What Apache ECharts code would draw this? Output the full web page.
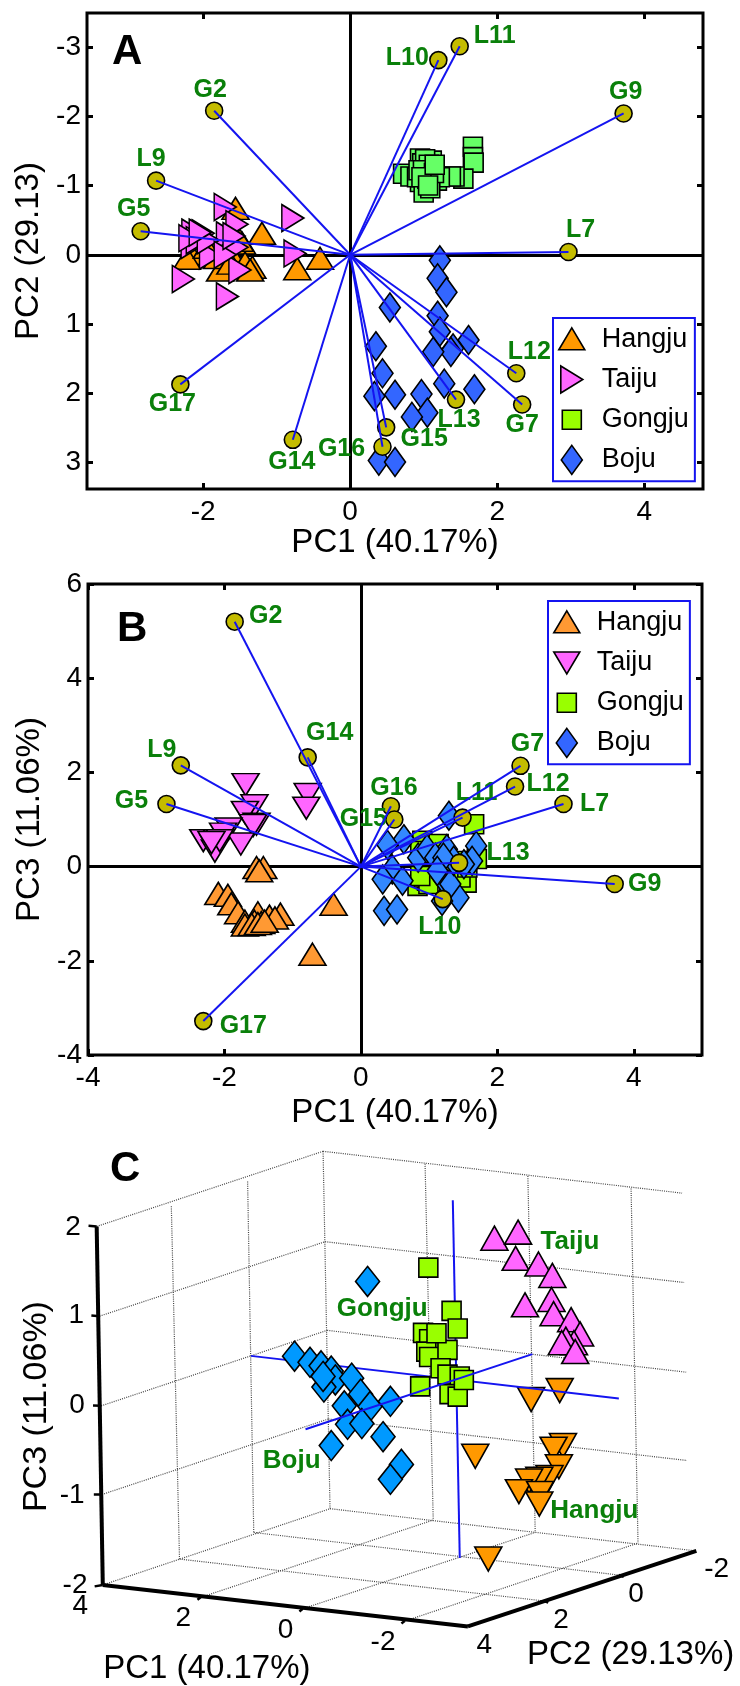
<!DOCTYPE html>
<html><head><meta charset="utf-8">
<script src="https://cdn.jsdelivr.net/npm/echarts@6/dist/echarts.min.js"></script>
<style>html,body{margin:0;padding:0;background:#fff}#c{width:740px;height:1686px}</style></head>
<body><div id="c"></div>
<script>
// ---------- data: loadings ----------
var loadingNames = ['G2','L9','G5','L10','L11','G9','L7','G17','G14','G16','G15','L13','L12','G7'];
var loadingPC1 = [-1.85,-2.64,-2.85,1.20,1.49,3.72,2.97,-2.31,-0.78,0.44,0.49,1.44,2.26,2.34];
var loadingPC2 = [-2.08,-1.07,-0.34,-2.81,-3.01,-2.04,-0.04,1.87,2.67,2.77,2.49,2.09,1.71,2.16];
var loadingPC3 = [5.20,2.15,1.33,-0.69,1.04,-0.37,1.33,-3.28,2.32,1.28,1.00,0.08,1.70,2.14];
var groups = ['Hangju','Taiju','Gongju','Boju'];
// ---------- data: panel A (PC1, PC2) ----------
var hangjuA = [[-1.56,-0.67],[-1.20,-0.31],[-0.41,0.05],[-0.72,0.20],[-1.33,0.18],[-1.73,0.18],[-2.14,0.03],[-1.47,-0.17],[-1.86,-0.09],[-1.59,0.04],[-2.00,-0.02],[-1.43,0.12],[-2.22,0.05],[-1.77,0.22],[-1.36,0.22],[-1.50,-0.21],[-1.81,0.04],[-1.63,0.12],[-1.95,-0.11]];
var taijuA = [[-1.70,-0.69],[-1.54,-0.44],[-0.78,-0.53],[-0.75,-0.02],[-2.27,0.35],[-2.14,-0.32],[-2.00,-0.31],[-2.15,-0.14],[-2.08,-0.21],[-1.67,-0.28],[-1.54,-0.11],[-1.90,0.01],[-1.50,0.22],[-1.67,0.60],[-2.18,-0.24],[-1.93,-0.21],[-1.70,0.00],[-2.04,-0.32],[-1.58,-0.27]];
var gongjuA = [[1.67,-1.56],[1.67,-1.41],[1.68,-1.33],[1.54,-1.10],[1.42,-1.13],[1.37,-1.13],[0.72,-1.17],[0.82,-1.13],[0.95,-1.39],[1.11,-1.36],[0.98,-1.32],[1.04,-1.27],[1.00,-1.17],[1.11,-1.12],[1.18,-1.07],[0.95,-1.05],[1.02,-1.05],[0.91,-1.12],[1.13,-1.25],[0.93,-1.22],[1.09,-1.19],[1.22,-1.12],[1.00,-0.90],[1.09,-0.96],[1.02,-1.38],[1.07,-1.30],[0.99,-1.22],[1.05,-1.10],[1.14,-1.18],[0.97,-1.12],[1.06,-1.00],[1.15,-1.30]];
var bojuA = [[1.22,0.08],[1.19,0.34],[1.31,0.54],[0.54,0.76],[1.19,0.88],[1.22,1.11],[1.61,1.23],[1.40,1.35],[1.37,1.40],[1.13,1.40],[0.35,1.32],[0.44,1.71],[1.28,1.86],[1.69,1.94],[0.33,2.04],[0.61,2.02],[0.97,2.01],[1.05,2.28],[0.84,2.34],[0.39,2.97],[0.61,2.99]];
// ---------- data: panel B (PC1, PC3) ----------
var hangjuB = [[-1.53,-0.02],[-1.43,-0.02],[-1.49,-0.09],[-0.40,-0.80],[-0.71,-1.86],[-2.09,-0.57],[-1.95,-0.61],[-1.90,-0.79],[-1.80,-0.98],[-1.70,-1.16],[-1.51,-0.98],[-1.34,-1.05],[-1.18,-1.01],[-1.26,-1.09],[-1.56,-1.16],[-1.70,-1.24],[-1.46,-1.19],[-1.60,-1.23],[-1.51,-1.21],[-1.41,-1.16]];
var taijuB = [[-1.69,1.74],[-0.78,1.53],[-0.80,1.24],[-1.56,1.29],[-1.70,1.15],[-1.53,0.90],[-1.58,0.87],[-1.94,0.80],[-2.02,0.69],[-1.76,0.48],[-2.31,0.55],[-2.11,0.55],[-2.16,0.44],[-2.14,0.33],[-2.07,0.55],[-2.19,0.51]];
var gongjuB = [[1.66,0.90],[1.55,-0.34],[0.83,-0.41],[0.90,0.55],[1.14,0.48],[1.41,0.12],[1.70,0.16],[0.97,-0.30],[1.02,-0.23],[0.92,-0.23],[0.99,-0.37],[0.87,-0.20],[1.17,0.12],[1.46,-0.23],[1.56,-0.02],[0.87,0.33]];
var bojuB = [[1.29,1.08],[0.63,0.58],[0.39,0.46],[1.69,0.44],[1.63,0.12],[0.84,0.19],[0.97,0.37],[1.26,0.37],[0.46,-0.06],[0.32,-0.27],[0.61,-0.30],[0.34,-0.94],[0.53,-0.91],[1.43,-0.66],[1.19,-0.73],[1.19,-0.23],[1.31,-0.37],[1.51,0.05],[1.09,0.19],[1.36,0.12],[1.21,0.19],[1.12,-0.09]];
// ---------- data: panel C, in projected view coordinates of its 3-D box ----------
var taijuC = [[1040,305],[1098,288],[1092,362],[1148,378],[1182,410],[1115,493],[1180,478],[1185,518],[1228,535],[1250,575],[1235,600],[1215,590],[1205,600],[1238,625]];
var hangjuC = [[1200,735],[1130,760],[993,920],[1208,890],[1185,900],[1198,950],[1175,980],[1150,985],[1125,990],[1100,1020],[1152,1025],[1150,1055],[1025,1210]];
var gongjuC = [[878,388],[935,510],[950,560],[865,572],[880,590],[873,625],[880,640],[925,620],[898,573],[908,672],[925,690],[955,695],[858,723],[930,745],[950,752],[965,705]];
var bojuC = [[729,427],[550,638],[588,655],[615,665],[640,680],[650,705],[622,725],[620,695],[690,700],[712,745],[735,780],[672,778],[785,765],[680,830],[715,828],[767,865],[640,890],[812,943],[785,985]];
var wallSegments = [
 [[65,272],[620,60]],[[620,60],[1500,178]],[[620,60],[637,1068]],
 [[72,525],[625,315]],[[625,315],[1505,430]],
 [[76,778],[630,565]],[[630,565],[1510,683]],
 [[78,1028],[633,815]],[[633,815],[1512,932]],
 [[80,1283],[637,1068]],[[637,1068],[1535,1187]],
 [[248,215],[268,1210]],[[435,145],[450,1135]],
 [[870,95],[890,1100]],[[1122,130],[1140,1135]],[[1375,165],[1392,1165]],
 [[320,1318],[890,1100]],[[570,1350],[1140,1135]],[[820,1385],[1392,1165]],
 [[268,1210],[1160,1328]],[[450,1135],[1345,1255]]
];
var frameSegments = [[[65,272],[80,1283]],[[80,1283],[975,1400]],[[975,1400],[1535,1187]]];
var tickSegments = [[[65,272],[45,270]],[[72,525],[52,523]],[[76,778],[56,777]],[[78,1028],[58,1028]],[[80,1283],[60,1287]],[[320,1318],[312,1325]],[[570,1350],[562,1358]],[[820,1385],[812,1392]],[[1160,1328],[1172,1333]],[[1345,1255],[1357,1260]]];
var blueUnderC = [[[938,198],[955,1207]],[[443,637],[1345,757]]];
var blueOverC = [[[577,844],[1133,632]]];
var textsC = [
 {t:'Taiju',p:[1225,315],k:'g'},{t:'Gongju',p:[765,505],k:'g'},{t:'Boju',p:[543,933],k:'g'},{t:'Hangju',p:[1285,1075],k:'g'},
 {t:'2',p:[7,273],k:'n'},{t:'1',p:[15,522],k:'n'},{t:'0',p:[17,775],k:'n'},{t:'-1',p:[5,1029],k:'n'},{t:'-2',p:[12,1283],k:'n'},
 {t:'4',p:[25,1342],k:'n'},{t:'2',p:[277,1378],k:'n'},{t:'0',p:[528,1410],k:'n'},{t:'-2',p:[767,1445],k:'n'},
 {t:'4',p:[1015,1453],k:'n'},{t:'2',p:[1203,1382],k:'n'},{t:'0',p:[1387,1308],k:'n'},{t:'-2',p:[1585,1238],k:'n'},
 {t:'PC1 (40.17%)',p:[335,1520],k:'a'},{t:'PC2 (29.13%)',p:[1374,1480],k:'a'},{t:'PC3 (11.06%)',p:[-81,780],k:'r'}
];
var ticksA_x=[-2,0,2,4], ticksA_y=[-3,-2,-1,0,1,2,3], ticksB_x=[-4,-2,0,2,4], ticksB_y=[-4,-2,0,2,4,6];
var rangeA_x=[-3.58,4.8], rangeA_y=[-3.49,3.38], rangeB_x=[-4,5], rangeB_y=[-4,6];

// ---------- styles ----------
var FONT='"Liberation Sans",Arial,sans-serif', GREEN='#0a800a', BLUE='#1414f0';
var TICK=28, AXIS=33, MARK=25;
var symUp='path://M13.5,0L27,22L0,22Z', symDown='path://M0,0L27,0L13.5,22Z', symRight='path://M0,0L22,13.5L0,27Z';
var sizeUp=[27,22], sizeDown=[27,22], sizeRight=[22,27], sizeSq=[19,19], sizeDia=[21,29];
var PAD='M0,0L0,0M26,29L26,29';
var iconUp='path://'+PAD+'M13,3L26,25L0,25Z', iconDown='path://'+PAD+'M0,4L26,4L13,26Z', iconRight='path://'+PAD+'M2,1L24,14.5L2,28Z', iconSq='path://'+PAD+'M3.5,5H22.5V24H3.5Z', iconDia='path://'+PAD+'M13,0L23.5,14.5L13,29L2.5,14.5Z';
var offsetsA={G2:[-4,-21],L9:[-5,-22],G5:[-7,-22],L10:[-31,-2],L11:[35,-10],G9:[2,-21],L7:[12,-22],G17:[-8,20],G14:[-1,22],G16:[-41,2],G15:[38,12],L13:[3,20],L12:[13,-21],G7:[0,21]};
var offsetsB={G2:[31,-6],G14:[22,-24],L9:[-19,-15],G5:[-35,-3],G17:[40,5],G16:[3,-18],G15:[-31,0],L11:[14,-25],G7:[7,-22],L12:[33,-2],L7:[31,0],L13:[49,-10],L10:[-3,28],G9:[30,0]};

function pts(name,data,sym,size,color,gi,z){
  return {type:'scatter',name:name,xAxisIndex:gi,yAxisIndex:gi,data:data,symbol:sym,symbolSize:size,z:z,silent:true,clip:false,
    itemStyle:{color:color,borderColor:'#000',borderWidth:1.6,opacity:1}};
}
function segs(list,gi,color,width,type,z){
  return {type:'lines',coordinateSystem:'cartesian2d',xAxisIndex:gi,yAxisIndex:gi,z:z,silent:true,
    data:list.map(function(s){return {coords:s};}),
    lineStyle:{color:color,width:width,type:type,opacity:1,curveness:0}};
}
function loadings(second,gi,offsets){
  var d=loadingNames.map(function(n,i){return {name:n,value:[loadingPC1[i],second[i]],
    label:{show:true,position:'inside',offset:offsets[n],formatter:n,color:GREEN,fontFamily:FONT,fontWeight:'bold',fontSize:MARK}};});
  return [pts('loadings'+gi,d,'circle',17,'#c4bc00',gi,6),
    segs(loadingNames.map(function(n,i){return [[0,0],[loadingPC1[i],second[i]]];}),gi,BLUE,2,'solid',7)];
}
function zero(gi,xr,yr){ return segs([[[xr[0],0],[xr[1],0]],[[0,yr[0]],[0,yr[1]]]],gi,'#000',3,'solid',1); }
function valAxis(gi,range,ticks,pos,showLabel,name,gap,inverse,margin){
  var ax={type:'value',gridIndex:gi,min:range[0],max:range[1],position:pos,inverse:!!inverse,
    splitLine:{show:false},axisLine:{show:false,onZero:false},
    axisTick:{show:true,inside:true,length:6,lineStyle:{width:3,color:'#000'},customValues:ticks},
    axisLabel:{show:showLabel,customValues:ticks,color:'#000',fontFamily:FONT,fontSize:TICK,margin:margin}};
  if(name){ax.name=name;ax.nameLocation='middle';ax.nameGap=gap;ax.nameTextStyle={color:'#000',fontFamily:FONT,fontSize:AXIS};}
  return ax;
}
function hidden(gi,min,max,inverse){ return {type:'value',gridIndex:gi,min:min,max:max,inverse:!!inverse,show:false,splitLine:{show:false}}; }
function legend(prefix,left,top,icons,colors){
  return {left:left,top:top,orient:'vertical',selectedMode:false,itemWidth:26,itemHeight:29,itemGap:9.6,
    padding:[6,6,6,5],borderColor:BLUE,borderWidth:2,backgroundColor:'#fff',z:20,symbolKeepAspect:true,
    data:groups.map(function(g,i){return {name:prefix+g,icon:icons[i],
      itemStyle:{color:colors[i],borderColor:'#000',borderWidth:1.6,opacity:1}};}),
    formatter:function(n){return n.slice(prefix.length);},
    textStyle:{color:'#000',fontFamily:FONT,fontSize:27,padding:[0,0,0,12]}};
}
function panelTitle(t,left,top){return {text:t,left:left,top:top,padding:0,textStyle:{color:'#000',fontFamily:FONT,fontWeight:'bold',fontSize:42}};}

var series=[
  zero(0,rangeA_x,rangeA_y),
  pts('A Hangju',hangjuA,symUp,sizeUp,'#ff9900',0,2),
  pts('A Taiju',taijuA,symRight,sizeRight,'#ff66ff',0,3),
  pts('A Gongju',gongjuA,'rect',sizeSq,'#66ff66',0,2),
  pts('A Boju',bojuA,'diamond',sizeDia,'#3366ff',0,2),
  zero(1,rangeB_x,rangeB_y),
  pts('B Hangju',hangjuB,symUp,sizeUp,'#ff9933',1,2),
  pts('B Taiju',taijuB,symDown,sizeDown,'#ff66ff',1,2),
  pts('B Gongju',gongjuB,'rect',sizeSq,'#99ff00',1,2),
  pts('B Boju',bojuB,'diamond',sizeDia,'#3388ff',1,3),
  segs(wallSegments,2,'#444',1.2,[1,1.2],1),
  segs(frameSegments,2,'#000',4,'solid',2),
  segs(tickSegments,2,'#000',2.5,'solid',2),
  pts('C Hangju',hangjuC,symDown,[27,24],'#ff9900',2,3),
  pts('C Taiju',taijuC,symUp,[27,24],'#ff66ff',2,3),
  segs(blueUnderC,2,BLUE,2,'solid',4),
  pts('C Gongju',gongjuC,'rect',sizeSq,'#99ff00',2,5),
  pts('C Boju',bojuC,'diamond',[24,30],'#0099ff',2,5),
  segs(blueOverC,2,BLUE,2,'solid',6),
  {type:'scatter',xAxisIndex:2,yAxisIndex:2,symbolSize:0,z:8,silent:true,clip:false,itemStyle:{opacity:1},
   data:textsC.map(function(o){
     var s={g:{fontSize:26,fontWeight:'bold',color:GREEN},n:{fontSize:TICK,color:'#000'},a:{fontSize:AXIS,color:'#000'},r:{fontSize:34,color:'#000',rotate:90}}[o.k];
     return {value:o.p,label:Object.assign({show:true,position:'inside',formatter:o.t,fontFamily:FONT},s)};
   })}
].concat(loadings(loadingPC2,0,offsetsA)).concat(loadings(loadingPC3,1,offsetsB));

var chart=echarts.init(document.getElementById('c'),null,{renderer:'canvas'});
chart.setOption({
  animation:false,backgroundColor:'#fff',
  title:[panelTitle('A',112,31),panelTitle('B',117,608),panelTitle('C',110,1148)],
  legend:[legend('A ',553,318,[iconUp,iconRight,iconSq,iconDia],['#ff9900','#ff66ff','#99ff00','#3366ff']),
          legend('B ',548,601,[iconUp,iconDown,iconSq,iconDia],['#ff9933','#ff66ff','#99ff00','#3366ff'])],
  grid:[
    {left:87,top:13,width:616,height:476,show:true,borderColor:'#000',borderWidth:3,backgroundColor:'transparent'},
    {left:88,top:584,width:614,height:471,show:true,borderColor:'#000',borderWidth:3,backgroundColor:'transparent'},
    {left:0,top:1130,width:740,height:556,show:false}
  ],
  xAxis:[
    valAxis(0,rangeA_x,ticksA_x,'bottom',true,'PC1 (40.17%)',37,false,9),
    valAxis(1,rangeB_x,ticksB_x,'bottom',true,'PC1 (40.17%)',41,false,9),
    hidden(2,-172,1642),
    valAxis(0,rangeA_x,ticksA_x,'top',false),
    valAxis(1,rangeB_x,ticksB_x,'top',false)
  ],
  yAxis:[
    valAxis(0,rangeA_y,ticksA_y,'left',true,'PC2 (29.13)',40,true,6),
    valAxis(1,rangeB_y,ticksB_y,'left',true,'PC3 (11.06%)',41,false,6),
    hidden(2,0,1568,true),
    valAxis(0,rangeA_y,ticksA_y,'right',false,null,0,true),
    valAxis(1,rangeB_y,ticksB_y,'right',false)
  ],
  series:series
});
</script>
</body></html>
